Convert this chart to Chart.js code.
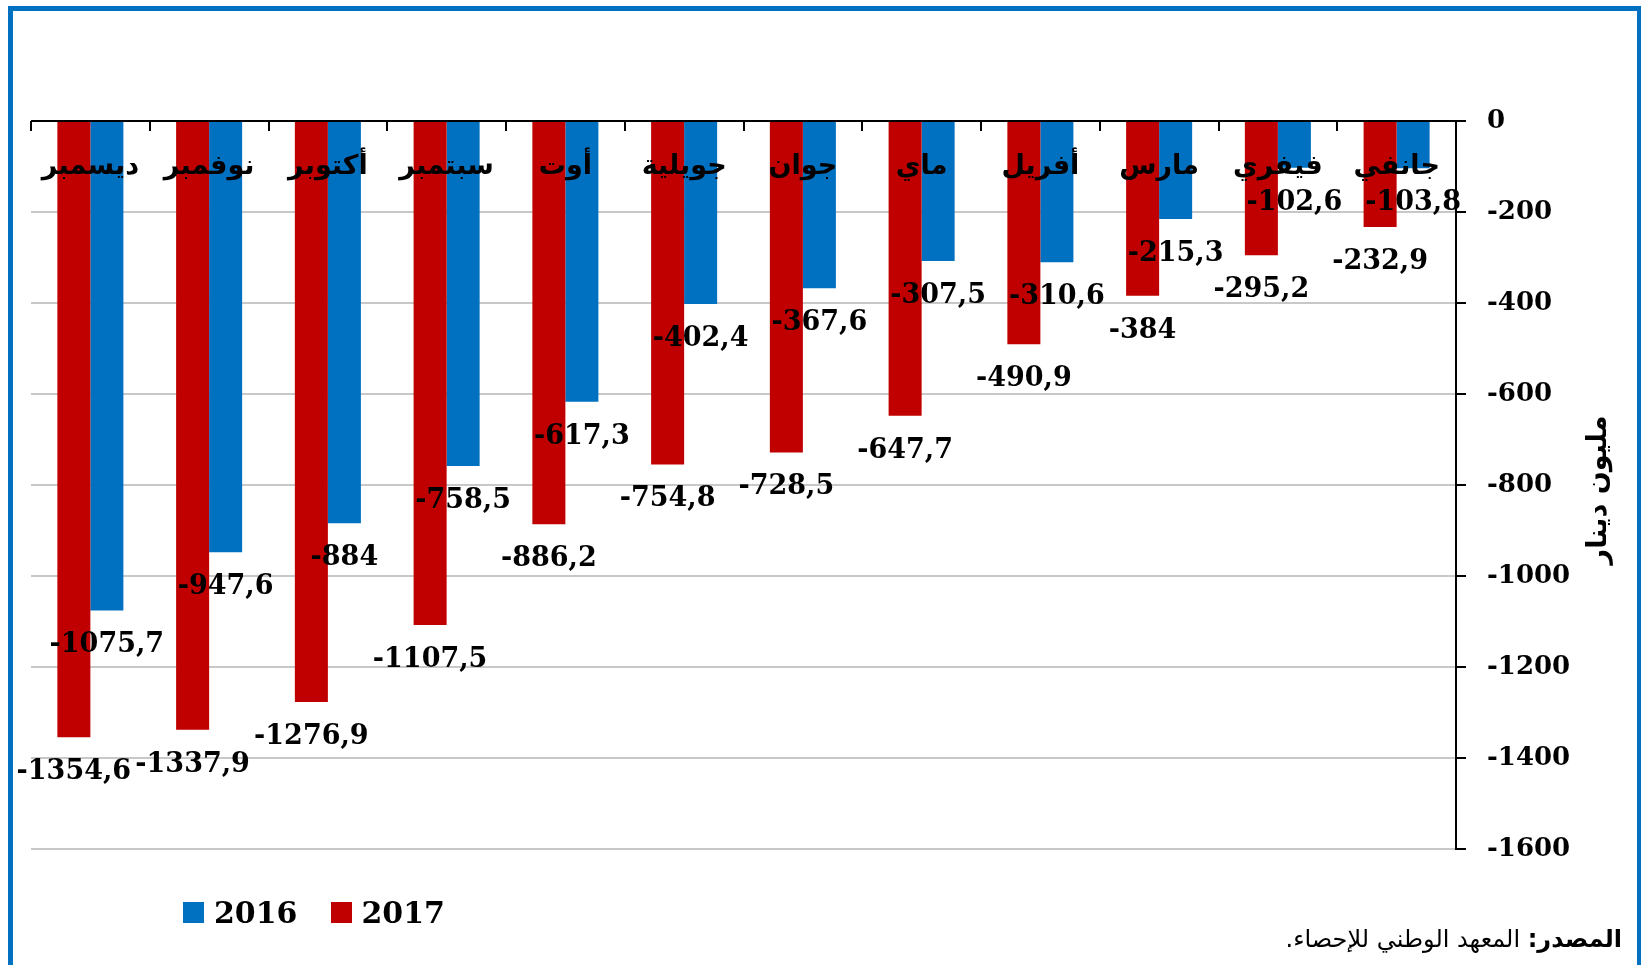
<!DOCTYPE html>
<html>
<head>
<meta charset="utf-8">
<script src="https://cdn.jsdelivr.net/npm/chart.js@4.4.1/dist/chart.umd.min.js"></script>
<style>
  html, body { margin: 0; padding: 0; background: #fff; }
  #wrap { position: relative; width: 1641px; height: 965px; overflow: hidden; }
  #c { position: absolute; left: 0; top: 0; }
  #frame { position: absolute; left: 8px; top: 6px; width: 1624px; height: 1000px;
           border: 5px solid #0070C0; pointer-events: none; }
  #legend { position: absolute; left: 183px; top: 895px; display: flex; align-items: center;
            font-family: "DejaVu Serif", serif; font-weight: bold; font-size: 30px; color: #000; }
  #legend .item { display: flex; align-items: center; margin-right: 33px; }
  #legend .sw { width: 21px; height: 21px; margin-right: 10px; }
  #source { position: absolute; right: 19px; top: 925px; direction: rtl;
            font-family: "DejaVu Sans", sans-serif; font-size: 24px; color: #000; }
</style>
</head>
<body>
<div id="wrap">
  <canvas id="c" width="1641" height="965"></canvas>
  <div id="frame"></div>
  <div id="legend"></div>
  <div id="source"><b>المصدر:</b> المعهد الوطني للإحصاء.</div>
</div>
<script>
// Categories, left to right as in the picture
const months = ['ديسمبر','نوفمبر','أكتوبر','سبتمبر','أوت','جويلية','جوان','ماي','أفريل','مارس','فيفري','جانفي'];
const values2016 = [-1075.7, -947.6, -884, -758.5, -617.3, -402.4, -367.6, -307.5, -310.6, -215.3, -102.6, -103.8];
const values2017 = [-1354.6, -1337.9, -1276.9, -1107.5, -886.2, -754.8, -728.5, -647.7, -490.9, -384, -295.2, -232.9];
const yTickValues = [0, -200, -400, -600, -800, -1000, -1200, -1400, -1600];
const yTitle = 'مليون دينار';

const fmt = v => String(v).replace('.', ',');

const overlay = {
  id: 'overlay',
  afterDatasetsDraw(chart) {
    const ctx = chart.ctx;
    const xs = chart.scales.x, ys = chart.scales.y, area = chart.chartArea;
    const zeroY = ys.getPixelForValue(0);
    ctx.save();
    // tick marks at category boundaries, below the zero line
    ctx.strokeStyle = '#000';
    ctx.lineWidth = 2;
    const n = months.length;
    const step = (area.right - area.left) / n;
    for (let i = 0; i < n; i++) {
      const cx = xs.getPixelForValue(i);
      const bx = Math.round(cx - step / 2);
      ctx.beginPath(); ctx.moveTo(bx, zeroY); ctx.lineTo(bx, zeroY + 10); ctx.stroke();
    }
    // data labels
    ctx.fillStyle = '#000';
    ctx.font = 'bold 27px "DejaVu Serif"';
    ctx.textAlign = 'center';
    ctx.textBaseline = 'middle';
    chart.data.datasets.forEach((ds, di) => {
      const meta = chart.getDatasetMeta(di);
      meta.data.forEach((bar, i) => {
        ctx.fillText(fmt(ds.data[i]), bar.x, bar.y + 35);
      });
    });
    // category labels
    ctx.font = 'bold 27px "DejaVu Sans"';
    ctx.direction = 'rtl';
    ctx.textAlign = 'center';
    months.forEach((m, i) => {
      ctx.fillText(m, xs.getPixelForValue(i), zeroY + 46);
    });
    // y-axis title
    ctx.translate(1599, 490);
    ctx.rotate(-Math.PI / 2);
    ctx.font = 'bold 27px "DejaVu Sans"';
    ctx.fillText(yTitle, 0, 0);
    ctx.restore();
  }
};

const chart = new Chart(document.getElementById('c'), {
  type: 'bar',
  data: {
    labels: months,
    datasets: [
      { label: '2017', data: values2017, backgroundColor: '#C00000', categoryPercentage: 0.556, barPercentage: 1.0 },
      { label: '2016', data: values2016, backgroundColor: '#0070C0', categoryPercentage: 0.556, barPercentage: 1.0 }
    ]
  },
  options: {
    responsive: false,
    animation: false,
    devicePixelRatio: 1,
    layout: { padding: { left: 31, top: 121, bottom: 116, right: 0 } },
    plugins: { legend: { display: false }, tooltip: { enabled: false } },
    scales: {
      x: { display: false },
      y: {
        position: 'right',
        min: -1600, max: 0,
        afterBuildTicks: s => { s.ticks = yTickValues.map(v => ({ value: v })); },
        afterFit: s => { s.width = 185; },
        ticks: {
          color: '#000',
          padding: 21,
          font: { family: '"DejaVu Serif"', weight: 'bold', size: 26 },
          callback: v => String(v)
        },
        grid: {
          color: c => (c.tick && c.tick.value === 0) ? '#000' : '#c8c8c8',
          lineWidth: 2,
          tickLength: 10,
          tickColor: '#000'
        },
        border: { color: '#000', width: 2 }
      }
    }
  },
  plugins: [overlay]
});

// HTML legend built from the chart datasets (2016 first)
const lg = document.getElementById('legend');
chart.data.datasets.slice().reverse().forEach(ds => {
  const it = document.createElement('div'); it.className = 'item';
  const sw = document.createElement('div'); sw.className = 'sw'; sw.style.background = ds.backgroundColor;
  const tx = document.createElement('span'); tx.textContent = ds.label;
  it.appendChild(sw); it.appendChild(tx); lg.appendChild(it);
});
</script>
</body>
</html>
